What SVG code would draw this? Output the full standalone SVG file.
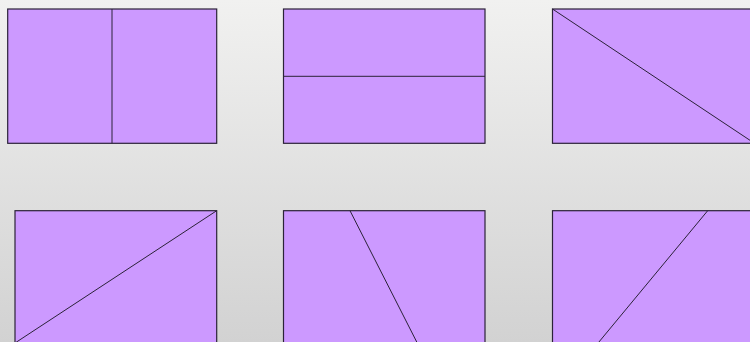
<svg xmlns="http://www.w3.org/2000/svg" width="750" height="342" viewBox="0 0 750 342">
<defs>
<linearGradient id="bg" x1="0" y1="0" x2="0" y2="1">
<stop offset="0" stop-color="#f1f1f0"/>
<stop offset="1" stop-color="#d2d2d2"/>
</linearGradient>
<style>
.box{fill:#cc99ff;stroke:#2b2238;stroke-width:1.2}
.cut{stroke:#2b2238;stroke-width:1;fill:none}
</style>
</defs>
<rect x="0" y="0" width="750" height="342" fill="url(#bg)"/>
<g id="r1"><rect class="box" x="7.7" y="9" width="209" height="134.3"/></g>
<g id="r2"><rect class="box" x="283.5" y="9" width="201.5" height="134.3"/></g>
<g id="r3"><rect class="box" x="552.5" y="9" width="202" height="134.3"/></g>
<g id="r4"><rect class="box" x="15" y="210.7" width="201.7" height="134"/></g>
<g id="r5"><rect class="box" x="283.5" y="210.7" width="201.5" height="134"/></g>
<g id="r6"><rect class="box" x="552.5" y="210.7" width="202" height="134"/></g>
<g id="connectors">
<line class="cut" x1="112" y1="9" x2="112" y2="143.3"/>
<line class="cut" x1="283.5" y1="76.3" x2="485" y2="76.3"/>
<line class="cut" x1="552.5" y1="9" x2="754.5" y2="143.3"/>
<line class="cut" x1="216.7" y1="210.7" x2="15" y2="343"/>
<line class="cut" x1="350" y1="210.7" x2="417" y2="342.5"/>
<line class="cut" x1="707.7" y1="210.7" x2="598.5" y2="342.5"/>
</g>
</svg>
